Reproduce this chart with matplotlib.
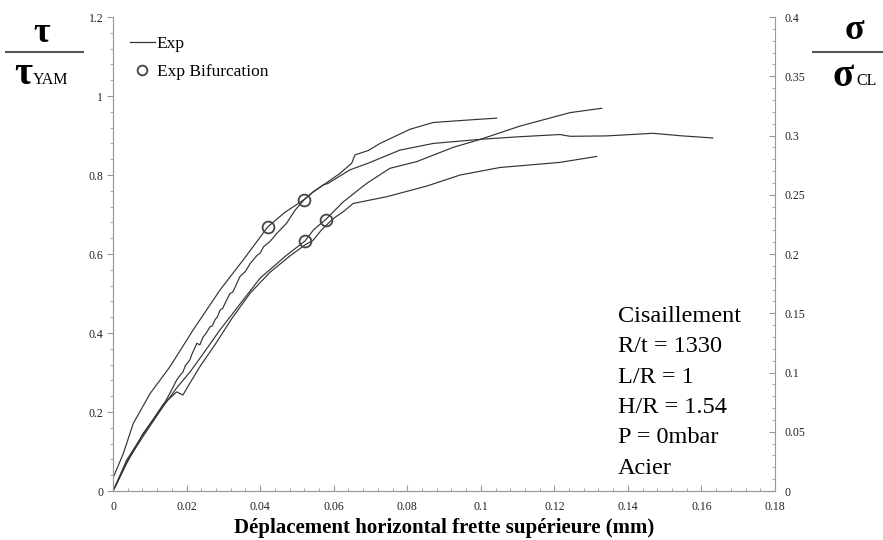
import matplotlib.pyplot as plt
import numpy as np
from matplotlib.ticker import MultipleLocator, FuncFormatter
from matplotlib.lines import Line2D

plt.rcParams['font.family'] = ['Liberation Serif', 'DejaVu Serif']

# courbe 1 (plateau ~0.9)
x1 = [0.0, 0.0028, 0.0055, 0.0101, 0.0155, 0.0218, 0.0291, 0.0354, 0.0421, 0.0468,
      0.0520, 0.0544, 0.0572, 0.0585, 0.0644, 0.0694, 0.0780, 0.0871, 0.1007, 0.1107,
      0.1215, 0.1243, 0.1342, 0.1468, 0.1542, 0.1631]
y1 = [0.033, 0.095, 0.171, 0.247, 0.315, 0.408, 0.509, 0.585, 0.669, 0.706,
      0.738, 0.757, 0.775, 0.779, 0.813, 0.830, 0.863, 0.880, 0.891, 0.897,
      0.9025, 0.898, 0.899, 0.9056, 0.8995, 0.8937]

# courbe 2 (la plus courte, bruitee)
x2 = [0.0, 0.0011, 0.0037, 0.0060, 0.0082, 0.0109, 0.0137, 0.0155, 0.0173, 0.0180,
      0.0190, 0.0197, 0.0209, 0.0214, 0.0228, 0.0236, 0.0245, 0.0252, 0.0264, 0.0270,
      0.0277, 0.0284, 0.0291, 0.0298, 0.0305, 0.0318, 0.0325, 0.0332, 0.0345, 0.0360,
      0.0373, 0.0392, 0.0400, 0.0409, 0.0428, 0.0445, 0.0472, 0.0495, 0.0520, 0.0545,
      0.0572, 0.0617, 0.0649, 0.0658, 0.0694, 0.0726, 0.0808, 0.0871, 0.0962, 0.1043]
y2 = [0.0, 0.020, 0.070, 0.109, 0.146, 0.180, 0.218, 0.248, 0.281, 0.290,
      0.301, 0.318, 0.332, 0.345, 0.374, 0.370, 0.390, 0.398, 0.416, 0.418,
      0.433, 0.441, 0.458, 0.462, 0.476, 0.500, 0.503, 0.516, 0.543, 0.556,
      0.576, 0.597, 0.602, 0.618, 0.633, 0.652, 0.678, 0.711, 0.738, 0.758,
      0.775, 0.804, 0.830, 0.851, 0.862, 0.880, 0.916, 0.933, 0.939, 0.944]

# courbe 3 (monte jusqu'a ~0.97)
x3 = [0.0, 0.0037, 0.0082, 0.0137, 0.0173, 0.0209, 0.0237, 0.0291, 0.0345, 0.0400,
      0.0472, 0.0522, 0.0545, 0.0579, 0.0595, 0.0626, 0.0690, 0.0753, 0.0826, 0.0925,
      0.0998, 0.1107, 0.1243, 0.1329]
y3 = [0.0, 0.073, 0.139, 0.215, 0.261, 0.301, 0.337, 0.408, 0.473, 0.539,
      0.597, 0.633, 0.661, 0.688, 0.703, 0.732, 0.779, 0.817, 0.834, 0.870,
      0.890, 0.924, 0.958, 0.969]

# courbe 4 (la plus basse)
x4 = [0.0, 0.0037, 0.0082, 0.0137, 0.0173, 0.0190, 0.0209, 0.0237, 0.0277, 0.0324,
      0.0373, 0.0427, 0.0481, 0.0522, 0.0544, 0.0567, 0.0599, 0.0626, 0.0653, 0.0744,
      0.0853, 0.0944, 0.1052, 0.1215, 0.1315]
y4 = [0.0, 0.078, 0.144, 0.220, 0.251, 0.243, 0.273, 0.316, 0.370, 0.438,
      0.501, 0.554, 0.595, 0.623, 0.635, 0.661, 0.690, 0.707, 0.728, 0.745,
      0.772, 0.800, 0.819, 0.832, 0.847]

# points de bifurcation
xb = [0.0421, 0.0520, 0.0522, 0.0579]
yb = [0.669, 0.738, 0.632, 0.687]

infos = ["Cisaillement", "R/t = 1330", "L/R = 1", "H/R = 1.54", "P = 0mbar", "Acier"]

fig = plt.figure(figsize=(8.83, 5.4), dpi=100)
ax = fig.add_axes([0.128, 0.0907, 0.7497, 0.8778])
ax2 = ax.twinx()

lc = '#333333'
for xs, ys in [(x1, y1), (x2, y2), (x3, y3), (x4, y4)]:
    ax.plot(xs, ys, color=lc, lw=0.85)
ax.plot(xb, yb, 'o', mfc='none', mec='#444444', mew=1.3, ms=8.5)

ax.set_xlim(0, 0.18)
ax.set_ylim(0, 1.2)
ax2.set_ylim(0, 0.4)

fmt = FuncFormatter(lambda v, p: '%g' % round(v, 3))
ax.xaxis.set_major_locator(MultipleLocator(0.02))
ax.xaxis.set_minor_locator(MultipleLocator(0.004))
ax.yaxis.set_major_locator(MultipleLocator(0.2))
ax.yaxis.set_minor_locator(MultipleLocator(0.04))
ax2.yaxis.set_major_locator(MultipleLocator(0.05))
ax2.yaxis.set_minor_locator(MultipleLocator(0.01))
ax.xaxis.set_major_formatter(fmt)
ax.yaxis.set_major_formatter(fmt)
ax2.yaxis.set_major_formatter(fmt)

sc = '#999999'
for a in (ax, ax2):
    for s in a.spines.values():
        s.set_color(sc)
    a.spines['top'].set_visible(False)
ax.spines['right'].set_visible(False)

ax.tick_params(axis='x', direction='in', which='both', colors=sc, labelcolor='#222222',
               labelsize=8.5, pad=7)
ax.tick_params(axis='x', which='major', length=4)
ax.tick_params(axis='x', which='minor', length=2.5)
ax.tick_params(axis='y', direction='out', which='both', colors=sc, labelcolor='#222222',
               labelsize=8.5, pad=3)
ax.tick_params(axis='y', which='major', length=4)
ax.tick_params(axis='y', which='minor', length=2.5)
ax2.tick_params(axis='y', direction='in', which='both', colors=sc, labelcolor='#222222',
                labelsize=8.5, pad=7)
ax2.tick_params(axis='y', which='major', length=4)
ax2.tick_params(axis='y', which='minor', length=2.5)

ax.set_xlabel("Déplacement horizontal frette supérieure (mm)", fontsize=15,
              fontweight='bold', labelpad=4)

handles = [Line2D([], [], color=lc, lw=0.9),
           Line2D([], [], marker='o', ls='none', mfc='none', mec='#444444', mew=1.3, ms=7)]
ax.legend(handles, ["Exp", "Exp Bifurcation"], loc='upper left', frameon=False,
          fontsize=12.5, handlelength=1.45, handletextpad=0.1, labelspacing=0.7,
          bbox_to_anchor=(0.015, 0.975), borderaxespad=0)

# bloc de texte
for i, t in enumerate(infos):
    fig.text(618 / 883, 1 - (322 + 30.3 * i) / 540, t, fontsize=17.5, ha='left',
             va='baseline')

# tau / tau_YAM a gauche
fig.text(42 / 883, 1 - 33 / 540, "τ", fontsize=26, fontweight='bold',
         ha='center', va='center')
fig.add_artist(Line2D([6 / 883, 83 / 883], [1 - 52 / 540, 1 - 52 / 540],
                      color='#555555', lw=1.5))
fig.text(23 / 883, 1 - 75 / 540, "τ", fontsize=28, fontweight='bold',
         ha='center', va='center')
fig.text(33 / 883, 1 - 84 / 540, "YAM", fontsize=11.5, ha='left', va='baseline')

# sigma / sigma_CL a droite
fig.text(854 / 883, 1 - 31 / 540, "σ", fontsize=26, fontweight='bold',
         ha='center', va='center')
fig.add_artist(Line2D([813 / 883, 883 / 883], [1 - 52 / 540, 1 - 52 / 540],
                      color='#555555', lw=1.5))
fig.text(843 / 883, 1 - 77 / 540, "σ", fontsize=28, fontweight='bold',
         ha='center', va='center')
fig.text(856 / 883, 1 - 85 / 540, "CL", fontsize=11.5, ha='left', va='baseline')

fig.savefig("out.png", dpi=100)
